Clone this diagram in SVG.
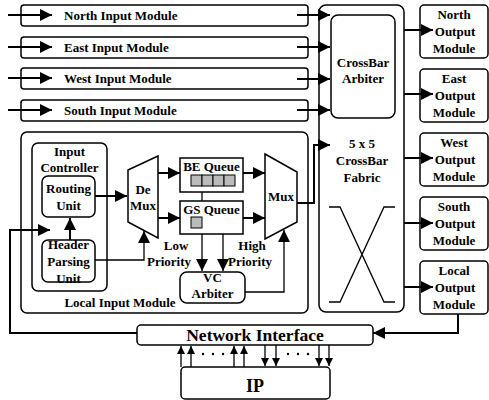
<svg xmlns="http://www.w3.org/2000/svg" width="489" height="400" viewBox="0 0 489 400">
<style>
.box{fill:#fff;stroke:#000;stroke-width:1.5}
.t{font-family:"Liberation Serif",serif;font-weight:bold;font-size:13px;fill:#000}
.tc{font-family:"Liberation Serif",serif;font-weight:bold;font-size:13px;fill:#000;text-anchor:middle}
.w{fill:none;stroke:#000;stroke-width:2}
.ws{fill:none;stroke:#000;stroke-width:1.3}
.cell{fill:#bbb;stroke:#000;stroke-width:1}
</style>
<defs>
<marker id="ah" markerUnits="userSpaceOnUse" markerWidth="13" markerHeight="13" refX="12" refY="6" orient="auto">
<path d="M0,0 L12,6 L0,12 z" fill="#000"/>
</marker>
<marker id="as" markerUnits="userSpaceOnUse" markerWidth="9" markerHeight="9" refX="8" refY="4" orient="auto">
<path d="M0,0 L8,4 L0,8 z" fill="#000"/>
</marker>
</defs>
<rect width="489" height="400" fill="#fff"/>

<g id="north-input"><rect class="box" x="21" y="5" width="287" height="21" rx="3"/><text class="t" x="64" y="20">North Input Module</text></g>
<g id="east-input"><rect class="box" x="21" y="37" width="287" height="21" rx="3"/><text class="t" x="64" y="52">East Input Module</text></g>
<g id="west-input"><rect class="box" x="21" y="68" width="287" height="21" rx="3"/><text class="t" x="64" y="83">West Input Module</text></g>
<g id="south-input"><rect class="box" x="21" y="100" width="287" height="21" rx="3"/><text class="t" x="64" y="115">South Input Module</text></g>

<g id="crossbar-fabric"><rect class="box" x="319" y="5" width="85" height="307" rx="7"/>
<text class="tc" x="362" y="148">5 x 5</text><text class="tc" x="362" y="165">CrossBar</text><text class="tc" x="362" y="182">Fabric</text>
<path class="ws" d="M329,207 H340 L384,302 H395 M395,207 H384 L340,302 H329"/></g>
<g id="crossbar-arbiter"><rect class="box" x="331" y="15" width="64" height="103" rx="7"/>
<text class="tc" x="363" y="67">CrossBar</text><text class="tc" x="363" y="83">Arbiter</text></g>

<g id="north-output"><rect class="box" x="420" y="5" width="68" height="53" rx="4"/><text class="tc" x="454" y="19">North</text><text class="tc" x="455" y="36">Output</text><text class="tc" x="454" y="53">Module</text></g>
<g id="east-output"><rect class="box" x="420" y="69" width="68" height="53" rx="4"/><text class="tc" x="454" y="83">East</text><text class="tc" x="455" y="100">Output</text><text class="tc" x="454" y="117">Module</text></g>
<g id="west-output"><rect class="box" x="420" y="133" width="68" height="53" rx="4"/><text class="tc" x="454" y="147">West</text><text class="tc" x="455" y="164">Output</text><text class="tc" x="454" y="181">Module</text></g>
<g id="south-output"><rect class="box" x="420" y="197" width="68" height="53" rx="4"/><text class="tc" x="454" y="211">South</text><text class="tc" x="455" y="228">Output</text><text class="tc" x="454" y="245">Module</text></g>
<g id="local-output"><rect class="box" x="420" y="261" width="68" height="53" rx="4"/><text class="tc" x="454" y="275">Local</text><text class="tc" x="455" y="292">Output</text><text class="tc" x="454" y="309">Module</text></g>

<g id="local-input-module"><rect class="box" x="21" y="132" width="287" height="181" rx="6"/><text class="tc" x="120" y="307">Local Input Module</text></g>
<g id="input-controller"><rect class="box" x="32" y="143" width="75" height="148" rx="6"/><text class="tc" x="69.5" y="156">Input</text><text class="tc" x="69.5" y="172">Controller</text></g>
<g id="routing-unit"><rect class="box" x="42" y="176" width="53" height="41" rx="6"/><text class="tc" x="68.5" y="193">Routing</text><text class="tc" x="68.5" y="210">Unit</text></g>
<g id="header-parsing-unit"><rect class="box" x="42" y="240" width="53" height="42" rx="6"/><text class="tc" x="68.5" y="249">Header</text><text class="tc" x="68.5" y="266">Parsing</text><text class="tc" x="68.5" y="283">Unit</text></g>
<g id="demux"><path class="box" d="M128,170 L158,156 L158,238 L128,222 Z"/><text class="tc" x="143" y="194">De</text><text class="tc" x="143" y="210">Mux</text></g>
<g id="be-queue"><rect class="box" x="180" y="158" width="63" height="34"/><text class="tc" x="211.5" y="171">BE Queue</text>
<rect class="cell" x="191" y="175" width="11" height="11"/><rect class="cell" x="202" y="175" width="11" height="11"/><rect class="cell" x="213" y="175" width="11" height="11"/><rect class="cell" x="224" y="175" width="11" height="11"/></g>
<g id="gs-queue"><rect class="box" x="180" y="201" width="63" height="33"/><text class="tc" x="211.5" y="214">GS Queue</text><rect class="cell" x="191" y="217" width="11" height="11"/></g>
<g id="mux"><path class="box" d="M265,154 L297,172 L297,222 L265,239 Z"/><text class="tc" x="281" y="201">Mux</text></g>
<g id="vc-arbiter"><rect class="box" x="180" y="272" width="65" height="31" rx="7"/><text class="tc" x="212.5" y="282">VC</text><text class="tc" x="212.5" y="298">Arbiter</text></g>
<g id="labels"><text class="tc" x="176" y="250">Low</text><text class="tc" x="169" y="266">Priority</text><text class="tc" x="252" y="250">High</text><text class="tc" x="250" y="266">Priority</text></g>

<g id="network-interface"><rect class="box" x="137" y="325" width="236" height="20" rx="4"/><text class="tc" x="255" y="341" style="font-size:17.5px">Network Interface</text></g>
<g id="ip"><rect class="box" x="181" y="367" width="149" height="32" rx="4"/><text class="tc" x="255" y="392" style="font-size:18px">IP</text></g>

<g id="connectors">
<path class="w" d="M8,15 H52" marker-end="url(#ah)"/>
<path class="w" d="M8,47 H52" marker-end="url(#ah)"/>
<path class="w" d="M8,78 H52" marker-end="url(#ah)"/>
<path class="w" d="M8,110 H52" marker-end="url(#ah)"/>
<path class="w" d="M297,15 H330" marker-end="url(#ah)"/>
<path class="w" d="M297,47 H330" marker-end="url(#ah)"/>
<path class="w" d="M297,79 H330" marker-end="url(#ah)"/>
<path class="w" d="M297,110 H330" marker-end="url(#ah)"/>
<path class="w" d="M404,30 H433" marker-end="url(#ah)"/>
<path class="w" d="M404,94 H433" marker-end="url(#ah)"/>
<path class="w" d="M404,158 H433" marker-end="url(#ah)"/>
<path class="w" d="M404,223 H433" marker-end="url(#ah)"/>
<path class="w" d="M404,287 H433" marker-end="url(#ah)"/>
<path class="w" d="M297,203 H314 V145 H330" marker-end="url(#ah)"/>
<path class="w" d="M95,196 H127" marker-end="url(#ah)"/>
<path class="w" d="M70,240 V218" marker-end="url(#ah)"/>
<path class="ws" d="M95,260 H144 V231" marker-end="url(#ah)"/>
<path class="w" d="M158,173 H180" marker-end="url(#ah)"/>
<path class="w" d="M158,218 H180" marker-end="url(#ah)"/>
<path class="w" d="M243,173 H265" marker-end="url(#ah)"/>
<path class="w" d="M243,218 H265" marker-end="url(#ah)"/>
<path class="ws" d="M202,192 V201"/>
<path class="ws" d="M202,234 V271" marker-end="url(#ah)"/>
<path class="ws" d="M223,234 V271" marker-end="url(#ah)"/>
<path class="ws" d="M245,292 H284 V230" marker-end="url(#ah)"/>
<path class="w" d="M137,333 H10 V230 H50" marker-end="url(#ah)"/>
<path class="w" d="M458,314 V333 H373" marker-end="url(#ah)"/>
<path class="ws" d="M181,367 V346" marker-end="url(#as)"/>
<path class="ws" d="M191,367 V346" marker-end="url(#as)"/>
<path class="ws" d="M234,367 V346" marker-end="url(#as)"/>
<path class="ws" d="M244,367 V346" marker-end="url(#as)"/>
<path class="ws" d="M265,345 V366" marker-end="url(#as)"/>
<path class="ws" d="M276,345 V366" marker-end="url(#as)"/>
<path class="ws" d="M319,345 V366" marker-end="url(#as)"/>
<path class="ws" d="M329,345 V366" marker-end="url(#as)"/>
<g fill="#000"><circle cx="203" cy="354" r="1.2"/><circle cx="213" cy="354" r="1.2"/><circle cx="223" cy="354" r="1.2"/><circle cx="288" cy="354" r="1.2"/><circle cx="298" cy="354" r="1.2"/><circle cx="308" cy="354" r="1.2"/></g>
</g>
</svg>
